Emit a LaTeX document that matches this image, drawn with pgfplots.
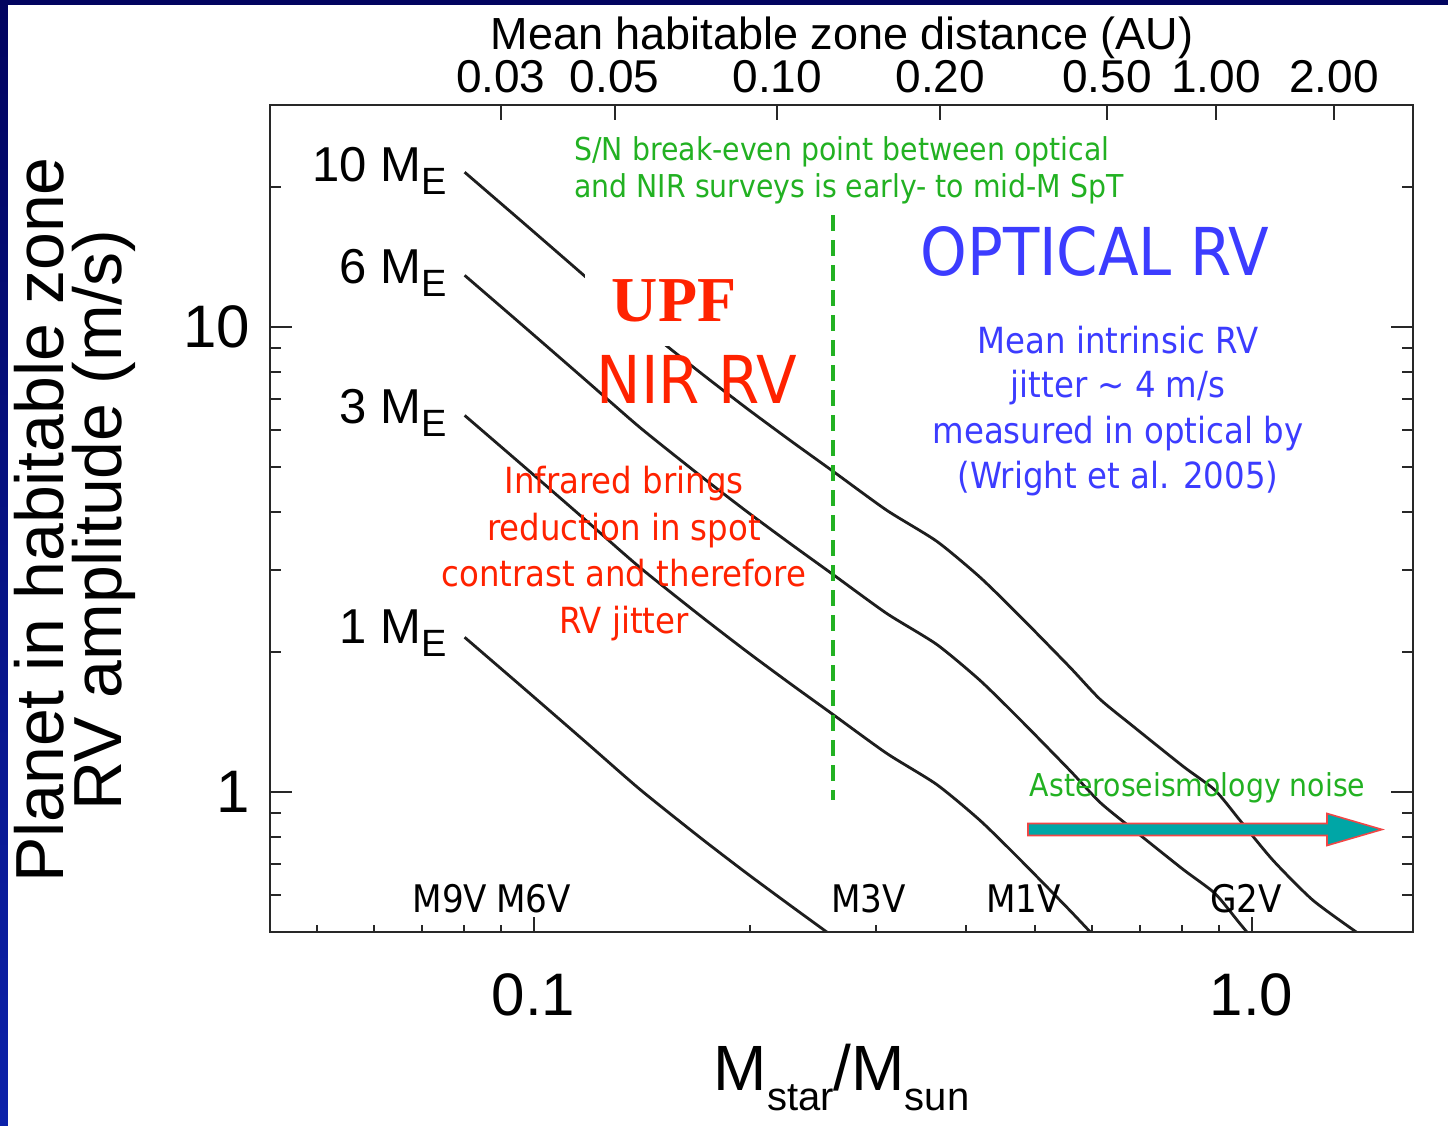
\documentclass[border=0pt]{standalone}
\usepackage{pgfplots}
\pgfplotsset{compat=1.18}
\usepackage{fontspec}
\setmainfont{Liberation Sans}
\newfontfamily\tah[FakeStretch=0.9]{DejaVu Sans}
\newfontfamily\tms{Liberation Serif}
\definecolor{grn}{RGB}{34,177,34}
\definecolor{blu}{RGB}{60,60,255}
\definecolor{rd}{RGB}{255,34,0}
\definecolor{tealc}{RGB}{0,166,166}
\definecolor{arrred}{RGB}{240,70,70}
\definecolor{curvec}{RGB}{30,30,30}
\definecolor{framec}{RGB}{40,40,40}
\newcommand{\fs}[1]{\fontsize{#1}{#1}\selectfont}
\begin{document}
\begin{tikzpicture}
\shade[top color={rgb,255:red,2;green,4;blue,96}, bottom color={rgb,255:red,12;green,34;blue,170}] (0pt,0pt) rectangle (724pt,-563pt);
\fill[white] (4pt,-2.5pt) rectangle (724pt,-563pt);
\path[use as bounding box] (0pt,0pt) rectangle (724pt,-563pt);
% main axis: data + y ticks
\begin{axis}[
  at={(135pt,-466pt)}, anchor=south west,
  width=571.5pt, height=413.5pt, scale only axis,
  xmode=log, ymode=log,
  xmin=0.04295, xmax=1.678, ymin=0.5, ymax=30,
  axis line style={line width=1.4pt, draw=framec},
  tick style={line width=1pt, draw=framec},
  xmajorticks=false, xminorticks=false,
  ytick={1,10}, yticklabels={1,10},
  minor ytick={0.6,0.7,0.8,0.9,2,3,4,5,6,7,8,9,20},
  ytick pos=both, yticklabel pos=left,
  major tick length=11pt, minor tick length=5.5pt,
  yticklabel style={font=\fs{30}, xshift=-6.5pt},
]
\addplot[curvec, line width=1.4pt, smooth, tension=0.4] coordinates {
(0.08017,21.51)(0.09728,16.63)(0.11791,12.85)(0.14067,10.13)(0.17051,7.990)(0.19807,6.686)(0.22756,5.706)(0.26121,4.894)(0.31030,4.035)(0.36424,3.461)(0.41855,2.896)(0.47582,2.387)(0.55861,1.854)(0.61504,1.583)(0.68371,1.385)(0.80251,1.136)(0.88930,1.009)(0.96349,0.869)(1.0711,0.713)(1.2176,0.585)(1.4067,0.497)};
\addplot[curvec, line width=1.4pt, smooth, tension=0.4] coordinates {
(0.08017,12.91)(0.09728,9.978)(0.11791,7.710)(0.14067,6.078)(0.17051,4.794)(0.19807,4.012)(0.22756,3.424)(0.26121,2.936)(0.31030,2.421)(0.36424,2.077)(0.41855,1.738)(0.47582,1.432)(0.55861,1.112)(0.61504,0.950)(0.68371,0.831)(0.80251,0.682)(0.88930,0.605)(0.96349,0.521)(1.0711,0.428)};
\addplot[curvec, line width=1.4pt, smooth, tension=0.4] coordinates {
(0.08017,6.453)(0.09728,4.989)(0.11791,3.855)(0.14067,3.039)(0.17051,2.397)(0.19807,2.006)(0.22756,1.712)(0.26121,1.468)(0.31030,1.211)(0.36424,1.038)(0.41855,0.869)(0.47582,0.716)(0.55861,0.556)(0.61504,0.475)};
\addplot[curvec, line width=1.4pt, smooth, tension=0.4] coordinates {
(0.08017,2.151)(0.09728,1.663)(0.11791,1.285)(0.14067,1.013)(0.17051,0.799)(0.19807,0.669)(0.22756,0.571)(0.26121,0.489)};
\addplot[grn, line width=1.6pt, dash pattern=on 8pt off 4.5pt] coordinates {(0.26121,17.39)(0.26121,0.96)};
\end{axis}
% bottom x ticks
\begin{axis}[
  at={(135pt,-466pt)}, anchor=south west,
  width=571.5pt, height=413.5pt, scale only axis,
  xmode=log, ymode=log,
  xmin=0.04295, xmax=1.678, ymin=0.5, ymax=30,
  axis line style={line width=1.4pt, draw=framec},
  tick style={line width=1pt, draw=framec},
  ymajorticks=false, yminorticks=false,
  xtick={0.1,1}, xticklabels={0.1,1.0},
  minor xtick={0.05,0.06,0.07,0.08,0.09,0.2,0.3,0.4,0.5,0.6,0.7,0.8,0.9},
  xtick pos=left,
  major tick length=7.5pt, minor tick length=3.5pt,
  xticklabel style={font=\fs{30}, yshift=-17.5pt},
]
\addplot[draw=none] coordinates {(0.1,1)};
\end{axis}
% top AU ticks
\begin{axis}[
  at={(135pt,-466pt)}, anchor=south west,
  width=571.5pt, height=413.5pt, scale only axis,
  xmode=log, ymode=log,
  xmin=0.04295, xmax=1.678, ymin=0.5, ymax=30,
  axis line style={line width=1.4pt, draw=framec},
  tick style={line width=1pt, draw=framec},
  ymajorticks=false, yminorticks=false, xminorticks=false,
  xtick={0.09004,0.12965,0.21857,0.36847,0.62898,0.89220,1.3022},
  xticklabels={0.03,0.05,0.10,0.20,0.50,1.00,2.00},
  xtick pos=right, xticklabel pos=right,
  major tick length=7.5pt,
  xticklabel style={font=\fs{23}, inner sep=1pt, yshift=5pt},
]
\addplot[draw=none] coordinates {(0.1,1)};
\end{axis}
\begin{scope}[x=0.5pt,y=-0.5pt]
% axis titles
\node[anchor=base, inner sep=0] at (842,49) {\fs{22.5}Mean habitable zone distance (AU)};
\node[rotate=90, anchor=base, inner sep=0] at (63,520) {\fs{34}Planet in habitable zone};
\node[rotate=90, anchor=base, inner sep=0] at (121,520) {\fs{34}RV amplitude (m/s)};
\node[anchor=base, inner sep=0] at (841.5,1090) {\fs{32}M\raisebox{-10pt}{\fs{20}star}/M\raisebox{-10pt}{\fs{20}sun}};
% planet mass labels
\node[anchor=base east, inner sep=0] at (447,181.7) {\fs{24.5}10 M\raisebox{-6.5pt}{\fs{19}E}};
\node[anchor=base east, inner sep=0] at (447,283.3) {\fs{24.5}6 M\raisebox{-6.5pt}{\fs{19}E}};
\node[anchor=base east, inner sep=0] at (447,423.3) {\fs{24.5}3 M\raisebox{-6.5pt}{\fs{19}E}};
\node[anchor=base east, inner sep=0] at (447,643.3) {\fs{24.5}1 M\raisebox{-6.5pt}{\fs{19}E}};
% UPF box and text
\fill[white] (585,268) rectangle (765,346);
\node[anchor=base, inner sep=0, text=rd] at (674,321.7) {\tms\bfseries\fs{32}UPF};
\node[anchor=base, inner sep=0, text=rd] at (697,403) {\tah\fs{33}NIR RV};
\node[anchor=base, inner sep=0, text=blu] at (1095,275) {\tah\fs{33}OPTICAL RV};
% green note
\node[anchor=base west, inner sep=0, text=grn] at (574,160) {\tah\fs{15.75}S/N break-even point between optical};
\node[anchor=base west, inner sep=0, text=grn] at (574,197) {\tah\fs{15.75}and NIR surveys is early- to mid-M SpT};
% blue note
\node[anchor=base, inner sep=0, text=blu] at (1118,353) {\tah\fs{18}Mean intrinsic RV};
\node[anchor=base, inner sep=0, text=blu] at (1118,397) {\tah\fs{18}jitter \textasciitilde{} 4 m/s};
\node[anchor=base, inner sep=0, text=blu] at (1118,443) {\tah\fs{18}measured in optical by};
\node[anchor=base, inner sep=0, text=blu] at (1118,488) {\tah\fs{18}(Wright et al. 2005)};
% red note
\node[anchor=base, inner sep=0, text=rd] at (624,493.5) {\tah\fs{18}Infrared brings};
\node[anchor=base, inner sep=0, text=rd] at (624,540) {\tah\fs{18}reduction in spot};
\node[anchor=base, inner sep=0, text=rd] at (624,586.7) {\tah\fs{18}contrast and therefore};
\node[anchor=base, inner sep=0, text=rd] at (624,633.3) {\tah\fs{18}RV jitter};
% spectral types
\node[anchor=base, inner sep=0] at (450,912) {\tah\fs{19}M9V};
\node[anchor=base, inner sep=0] at (533.6,912) {\tah\fs{19}M6V};
\node[anchor=base, inner sep=0] at (868.5,912) {\tah\fs{19}M3V};
\node[anchor=base, inner sep=0] at (1023.5,912) {\tah\fs{19}M1V};
\node[anchor=base, inner sep=0] at (1246,912) {\tah\fs{19}G2V};
% asteroseismology
\node[anchor=base, inner sep=0, text=grn] at (1197.6,796) {\tah\fs{15.75}Asteroseismology noise};
\filldraw[fill=tealc, draw=arrred, line width=0.8pt] (1028,823.5) -- (1327,823.5) -- (1327,813.5) -- (1382,829.5) -- (1327,845.5) -- (1327,835.5) -- (1028,835.5) -- cycle;
\end{scope}
\end{tikzpicture}
\end{document}
